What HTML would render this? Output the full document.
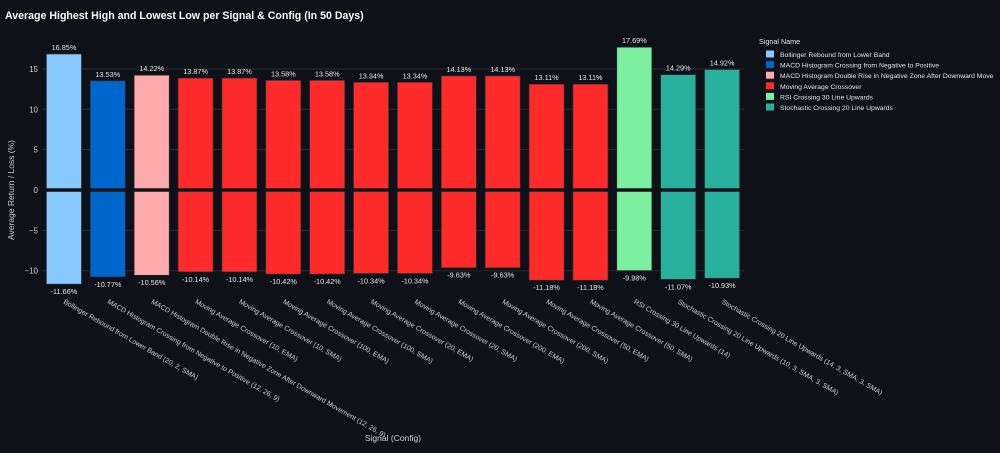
<!DOCTYPE html>
<html><head><meta charset="utf-8">
<style>
html,body{margin:0;padding:0;background:#0e1117;}
svg{display:block;font-family:"Liberation Sans",Arial,sans-serif;}
</style></head>
<body>
<svg id="chart" width="1000" height="453">
<rect width="1000" height="453" fill="#0e1117"/>
<text x="5" y="19" fill="#fafafa" font-size="10.6" font-weight="bold">Average Highest High and Lowest Low per Signal &amp; Config (In 50 Days)</text>
<g id="grid"></g>
<g id="bars"></g>
<g id="labels"></g>
<text x="393" y="441" fill="#d0d0d0" font-size="8.5" text-anchor="middle">Signal (Config)</text>
<text transform="translate(14,190) rotate(-90)" fill="#d0d0d0" font-size="8.5" text-anchor="middle">Average Return / Loss (%)</text>
<g id="legend"></g>
</svg>
<script>
const categories=["Bollinger Rebound from Lower Band (20, 2, SMA)","MACD Histogram Crossing from Negative to Positive (12, 26, 9)","MACD Histogram Double Rise in Negative Zone After Downward Movement (12, 26, 9)","Moving Average Crossover (10, EMA)","Moving Average Crossover (10, SMA)","Moving Average Crossover (100, EMA)","Moving Average Crossover (100, SMA)","Moving Average Crossover (20, EMA)","Moving Average Crossover (20, SMA)","Moving Average Crossover (200, EMA)","Moving Average Crossover (200, SMA)","Moving Average Crossover (50, EMA)","Moving Average Crossover (50, SMA)","RSI Crossing 30 Line Upwards (14)","Stochastic Crossing 20 Line Upwards (10, 3, SMA, 3, SMA)","Stochastic Crossing 20 Line Upwards (14, 3, SMA, 3, SMA)"];
const highs=[16.85,13.53,14.22,13.87,13.87,13.58,13.58,13.34,13.34,14.13,14.13,13.11,13.11,17.69,14.29,14.92];
const lows=[-11.66,-10.77,-10.56,-10.14,-10.14,-10.42,-10.42,-10.34,-10.34,-9.63,-9.63,-11.18,-11.18,-9.98,-11.07,-10.93];
const groups=[0,1,2,3,3,3,3,3,3,3,3,3,3,4,5,5];
const groupNames=["Bollinger Rebound from Lower Band","MACD Histogram Crossing from Negative to Positive","MACD Histogram Double Rise in Negative Zone After Downward Move","Moving Average Crossover","RSI Crossing 30 Line Upwards","Stochastic Crossing 20 Line Upwards"];
const groupColors=["#87c9ff","#0066cc","#ffabab","#ff2b2b","#7defa1","#27b09c"];
const yTicks=[-10,-5,0,5,10,15];

const NS="http://www.w3.org/2000/svg";
const plotL=42,plotR=744,y0=190,unit=8.07;
const band=(plotR-plotL)/categories.length, barW=35;
const xC=i=>plotL+band*(i+0.5);
const yS=v=>y0-v*unit;
function mk(tag,attrs,parent){const e=document.createElementNS(NS,tag);for(const k in attrs)e.setAttribute(k,attrs[k]);parent.appendChild(e);return e;}
const grid=document.getElementById('grid'),bars=document.getElementById('bars'),labels=document.getElementById('labels'),legend=document.getElementById('legend');
yTicks.forEach(t=>{
  const l=mk('line',{x1:plotL,x2:plotR,y1:yS(t),y2:yS(t),stroke:'#252a33','stroke-width':1},grid);
  
  
  const tx=mk('text',{x:plotL-4,y:yS(t)+3,fill:'#d0d0d0','font-size':8,'text-anchor':'end'},grid);
  tx.textContent=t<0?'\u2212'+Math.abs(t):String(t);
  
  
});
categories.forEach((c,i)=>{
  const col=groupColors[groups[i]], x=xC(i)-barW/2;
  const hb=mk('rect',{x:x,y:yS(highs[i]),width:barW,height:yS(0)-1.5-yS(highs[i]),fill:col,stroke:'#333','stroke-width':0.6},bars);
  
  
  const lb=mk('rect',{x:x,y:yS(0)+1.5,width:barW,height:yS(lows[i])-yS(0)-1.5,fill:col,stroke:'#333','stroke-width':0.6},bars);
  
  
  const ht=mk('text',{x:xC(i),y:yS(highs[i])-4,fill:'#e6e6e6','font-size':7.3,'text-anchor':'middle'},labels);
  ht.textContent=highs[i].toFixed(2)+'%';
  
  
  const lt=mk('text',{x:xC(i),y:yS(lows[i])+10,fill:'#e6e6e6','font-size':7.3,'text-anchor':'middle'},labels);
  lt.textContent=lows[i].toFixed(2)+'%';
  
  
  const ct=mk('text',{transform:`translate(${xC(i)-1},${303}) rotate(30)`,fill:'#d0d0d0','font-size':7},labels);
  ct.textContent=c;
  
  
});
const zl=mk('line',{x1:plotL,x2:plotR,y1:y0,y2:y0,stroke:'#0e1117','stroke-width':3},bars);


const lt=mk('text',{x:759,y:44,fill:'#e6e6e6','font-size':7.2},legend);
lt.textContent='Signal Name';


groupNames.forEach((g,k)=>{
  const y=51+k*10.6;
  const sw=mk('rect',{x:766,y:y-0.5,width:8,height:7,fill:groupColors[k]},legend);
  
  
  const t=mk('text',{x:780,y:y+6,fill:'#e6e6e6','font-size':6.8},legend);
  t.textContent=g;
  
  
});
</script>
</body></html>
